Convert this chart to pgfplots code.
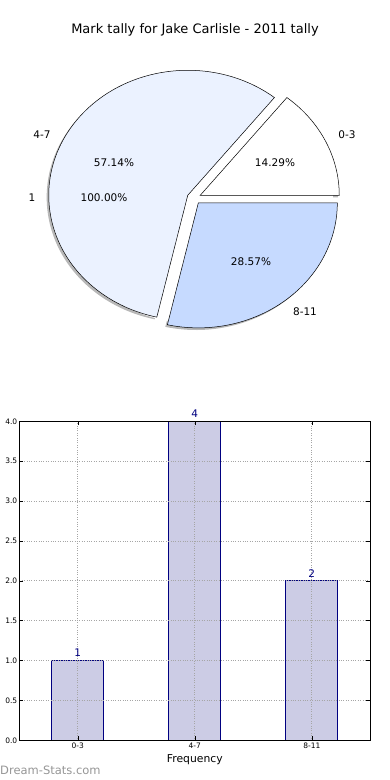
\documentclass[border=0pt]{standalone}
\usepackage{fontspec}
\setmainfont{DejaVu Sans}
\usepackage{pgfplots}
\pgfplotsset{compat=1.18}
\definecolor{wA}{RGB}{255,255,255}
\definecolor{wB}{RGB}{235,242,255}
\definecolor{wC}{RGB}{198,218,255}
\definecolor{barfill}{RGB}{204,204,229}
\definecolor{navy}{RGB}{0,0,128}
\definecolor{wm}{RGB}{150,150,150}
\begin{document}
\begin{tikzpicture}[x=1pt,y=1pt]
\useasboundingbox (0,0) rectangle (390,780);
\node[font=\fontsize{13}{15}\selectfont] at (195,750) {Mark tally for Jake Carlisle - 2011 tally};
% ---------------- pie ----------------
\begin{axis}[at={(194pt,582pt)}, anchor=origin, x=139pt, y=125pt,
  xmin=-1.3, xmax=1.3, ymin=-1.3, ymax=1.3, hide axis, clip=false]
% shadows
\fill[gray!70, opacity=0.8] (axis cs:0.035,0.005) -- (axis cs:1.035,0.005) arc[start angle=0,end angle=51.43,x radius=139pt,y radius=125pt] -- cycle;
\fill[gray!70, opacity=0.8] (axis cs:-0.060,0.005) -- (axis cs:0.5635,0.7865) arc[start angle=51.43,end angle=257.14,x radius=139pt,y radius=125pt] -- cycle;
\fill[gray!70, opacity=0.8] (axis cs:0.0162,-0.0561) -- (axis cs:-0.2063,-1.0310) arc[start angle=257.14,end angle=360,x radius=139pt,y radius=125pt] -- cycle;
\fill[white] (axis cs:0,0) ellipse[x radius=139pt, y radius=125pt];
% wedges (counts 1, 4, 2 of 7)
\filldraw[fill=wA, draw=black, line width=0.5pt] (axis cs:0.0450,0.0217) -- (axis cs:1.0450,0.0217) arc[start angle=0,end angle=51.43,x radius=139pt,y radius=125pt] -- cycle;
\filldraw[fill=wB, draw=black, line width=0.5pt] (axis cs:-0.0450,0.0217) -- (axis cs:0.5785,0.8035) arc[start angle=51.43,end angle=257.14,x radius=139pt,y radius=125pt] -- cycle;
\filldraw[fill=wC, draw=black, line width=0.5pt] (axis cs:0.0312,-0.0391) -- (axis cs:-0.1913,-1.0140) arc[start angle=257.14,end angle=360,x radius=139pt,y radius=125pt] -- cycle;
\end{axis}
\begin{scope}[every node/.style={font=\fontsize{10.5}{12}\selectfont}]
\node at (347,645) {0-3};
\node at (42,645) {4-7};
\node at (32,582) {1};
\node at (305,468) {8-11};
\node at (275,617) {14.29\%};
\node at (114,617) {57.14\%};
\node at (104,582) {100.00\%};
\node at (251,518) {28.57\%};
\end{scope}
% ---------------- bars ----------------
\begin{axis}[at={(19.3pt,39.7pt)}, anchor=south west, scale only axis,
  width=351pt, height=319pt,
  xmin=-0.5, xmax=2.5, ymin=0, ymax=4,
  xtick={0,1,2}, xticklabels={0-3,4-7,8-11},
  ytick={0,0.5,...,4},
  yticklabel style={/pgf/number format/fixed, /pgf/number format/fixed zerofill, /pgf/number format/precision=1},
  /pgf/number format/assume math mode=true,
  tick label style={font=\fontsize{7.5}{9}\selectfont},
  xticklabel style={yshift=1pt},
  yticklabel style={xshift=1.5pt},
  major tick length=4pt,
  tick style={black, line width=0.5pt},
  grid=major, major grid style={gray!70, dotted, line width=0.8pt},
  axis on top, axis line style={black, line width=0.8pt},
  xlabel={Frequency}, xlabel style={font=\fontsize{10.8}{12}\selectfont, yshift=1pt},
  ]
\addplot[ybar, bar width=52pt, fill=barfill, draw=navy, line width=0.7pt,
  nodes near coords, nodes near coords style={font=\fontsize{10.5}{12}\selectfont, text=navy, anchor=south, yshift=0pt}]
  coordinates {(0,1) (1,4) (2,2)};
\end{axis}
\node[font=\fontsize{11.5}{13}\selectfont, text=wm, anchor=west, inner sep=0pt] at (0,10) {Dream-Stats.com};
\end{tikzpicture}
\end{document}
